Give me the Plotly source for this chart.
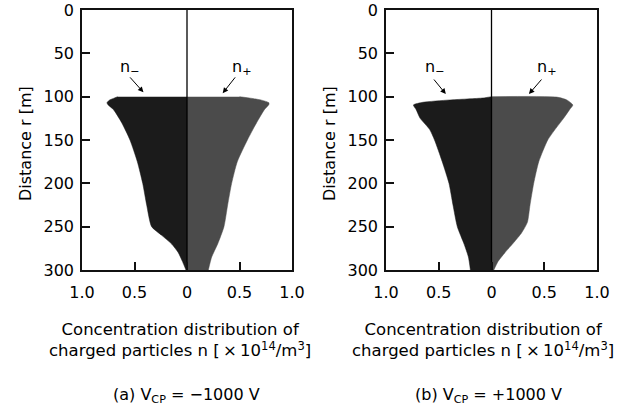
import plotly.graph_objects as go

# ---------------- data ----------------
# (a) V_CP = -1000 V
r_neg_a = [100, 102, 104, 107, 109, 115, 130, 150, 175, 200, 225, 250, 260, 270, 280, 290, 300]
n_neg_a = [0.66, 0.70, 0.74, 0.762, 0.755, 0.70, 0.622, 0.543, 0.473, 0.422, 0.384, 0.337, 0.241, 0.146, 0.083, 0.044, 0.01]
r_pos_a = [100, 102, 104, 107, 109, 115, 130, 150, 175, 200, 225, 250, 270, 285, 300]
n_pos_a = [0.50, 0.62, 0.71, 0.78, 0.78, 0.737, 0.663, 0.575, 0.479, 0.425, 0.387, 0.352, 0.292, 0.235, 0.203]

# (b) V_CP = +1000 V
r_neg_b = [100, 101.5, 103.8, 106.5, 109.6, 115, 125, 137.7, 150, 175, 200, 225, 250, 270, 285, 300]
n_neg_b = [0.0, 0.08, 0.397, 0.651, 0.74, 0.714, 0.676, 0.587, 0.54, 0.467, 0.403, 0.365, 0.324, 0.26, 0.219, 0.2]
r_pos_b = [100, 100.5, 103.8, 109.6, 115, 125, 137.7, 150, 175, 200, 225, 245, 257, 268, 280, 290, 300]
n_pos_b = [0.0, 0.619, 0.714, 0.771, 0.74, 0.683, 0.603, 0.533, 0.448, 0.40, 0.365, 0.34, 0.286, 0.213, 0.127, 0.063, 0.022]

x_tickvals = [-1, -0.5, 0, 0.5, 1]
x_ticktext = ["1.0", "0.5", "0", "0.5", "1.0"]
y_tickvals = [0, 50, 100, 150, 200, 250, 300]
y_range = [300, 0]

captions = ["(a) V<sub>CP</sub> = \u22121000 V", "(b) V<sub>CP</sub> = +1000 V"]
x_title = "Concentration distribution of<br>charged particles n [\u2009\u00d7\u200910<sup>14</sup>/m<sup>3</sup>]"
y_title = "Distance r [m]"
label_neg = "n<sub>\u2212</sub>"
label_pos = "n<sub>+</sub>"

# arrow geometry in data units (head x, head y, tail x, tail y)
arrows_a = [(-0.415, 95, -0.555, 76), (0.34, 96, 0.47, 76)]
arrows_b = [(-0.433, 97, -0.557, 78.5), (0.355, 97, 0.486, 78.5)]
label_pos_a = [(-0.54, 66), (0.52, 66)]
label_pos_b = [(-0.535, 66), (0.523, 66)]

DARK = "#1b1b1b"
GRAY = "#4b4b4b"
FONT = "DejaVu Sans"

W, H = 627, 412
fig = go.Figure()

panels = [
    dict(rn=r_neg_a, nn=n_neg_a, rp=r_pos_a, np_=n_pos_a, xa="x", ya="y",
         dom=[82 / W, 292 / W], arrows=arrows_a, labels=label_pos_a,
         ytitle_x=25, xtitle_x=180, cap_x=186),
    dict(rn=r_neg_b, nn=n_neg_b, rp=r_pos_b, np_=n_pos_b, xa="x2", ya="y2",
         dom=[386 / W, 597 / W], arrows=arrows_b, labels=label_pos_b,
         ytitle_x=329, xtitle_x=483, cap_x=488),
]

ydom = [1 - 270 / H, 1 - 10 / H]
annotations = []
for i, p in enumerate(panels):
    fig.add_trace(go.Scatter(x=[-v for v in p["nn"]], y=p["rn"], mode="lines",
                             fill="tozerox", fillcolor=DARK,
                             line=dict(color=DARK, width=0.5, shape="spline", smoothing=0.6),
                             xaxis=p["xa"], yaxis=p["ya"], showlegend=False, hoverinfo="skip"))
    fig.add_trace(go.Scatter(x=p["np_"], y=p["rp"], mode="lines",
                             fill="tozerox", fillcolor=GRAY,
                             line=dict(color=GRAY, width=0.5, shape="spline", smoothing=0.6),
                             xaxis=p["xa"], yaxis=p["ya"], showlegend=False, hoverinfo="skip"))
    # centre line x = 0 across the full y range
    fig.add_trace(go.Scatter(x=[0, 0], y=[min(y_range), max(y_range)], mode="lines",
                             line=dict(color="black", width=1.3),
                             xaxis=p["xa"], yaxis=p["ya"], showlegend=False, hoverinfo="skip"))
    for (hx, hy, tx, ty) in p["arrows"]:
        annotations.append(dict(x=hx, y=hy, ax=tx, ay=ty, xref=p["xa"], yref=p["ya"],
                                axref=p["xa"], ayref=p["ya"], text="", showarrow=True,
                                arrowhead=2, arrowsize=1.1, arrowwidth=1, arrowcolor="black"))
    for (lx, ly), txt in zip(p["labels"], [label_neg, label_pos]):
        annotations.append(dict(x=lx, y=ly, xref=p["xa"], yref=p["ya"], text=txt,
                                xanchor="center", yanchor="middle",
                                showarrow=False, font=dict(family=FONT, size=16, color="black")))
    annotations.append(dict(x=p["ytitle_x"] / W, y=1 - 144 / H, xref="paper", yref="paper",
                            xanchor="center", yanchor="middle",
                            text=y_title, textangle=-90, showarrow=False,
                            font=dict(family=FONT, size=16, color="black")))
    annotations.append(dict(x=p["xtitle_x"] / W, y=1 - 340 / H, xref="paper", yref="paper",
                            xanchor="center", yanchor="middle",
                            text=x_title, showarrow=False, align="center",
                            font=dict(family=FONT, size=16.5, color="black")))
    annotations.append(dict(x=p["cap_x"] / W, y=1 - 395 / H, xref="paper", yref="paper",
                            xanchor="center", yanchor="middle",
                            text=captions[i], showarrow=False,
                            font=dict(family=FONT, size=16, color="black")))

    axis_common = dict(showline=True, mirror=True, linecolor="#111111", linewidth=1.6,
                       ticks="inside", ticklen=8, tickwidth=1.5, tickcolor="#111111",
                       showgrid=False, zeroline=False, automargin=False,
                       tickfont=dict(family=FONT, size=16, color="black"))
    xkey = "xaxis" if p["xa"] == "x" else "xaxis2"
    ykey = "yaxis" if p["ya"] == "y" else "yaxis2"
    fig.update_layout(**{
        xkey: dict(domain=p["dom"], range=[-1, 1], tickvals=x_tickvals, ticktext=x_ticktext,
                   anchor=p["ya"], ticklabelstandoff=7, **axis_common),
        ykey: dict(domain=ydom, range=y_range, tickvals=y_tickvals, anchor=p["xa"],
                   ticklabelstandoff=3, **axis_common),
    })

fig.update_layout(width=W, height=H, margin=dict(l=0, r=0, t=0, b=0, pad=0, autoexpand=False),
                  paper_bgcolor="white", plot_bgcolor="white",
                  annotations=annotations, showlegend=False)
fig.write_html("out.html", post_script="document.body.style.margin='0';")
